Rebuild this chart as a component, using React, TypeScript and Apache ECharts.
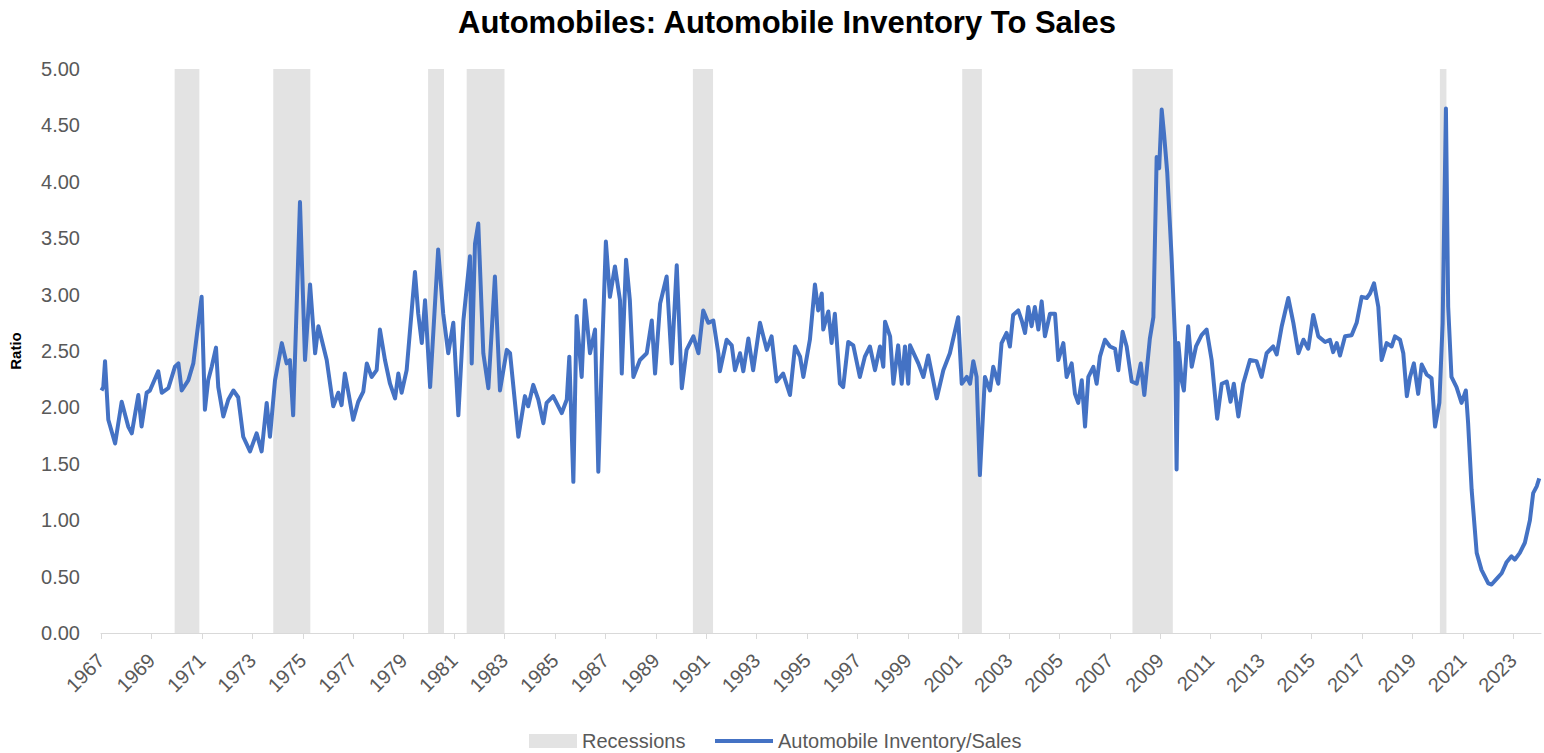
import React, { useEffect, useRef } from "react";
import * as echarts from "echarts";

const dates: number[] = [
  1967.02, 1967.09, 1967.16, 1967.29, 1967.56, 1967.82, 1968.08, 1968.22, 1968.48, 1968.61, 1968.81, 1968.94,
  1969.27, 1969.41, 1969.67, 1969.93, 1970.07, 1970.20, 1970.46, 1970.66, 1970.99, 1971.12, 1971.25, 1971.39,
  1971.56, 1971.65, 1971.85, 1972.05, 1972.25, 1972.44, 1972.64, 1972.91, 1973.17, 1973.37, 1973.57, 1973.70,
  1973.90, 1974.17, 1974.36, 1974.49, 1974.62, 1974.89, 1975.09, 1975.29, 1975.49, 1975.62, 1975.95, 1976.21,
  1976.41, 1976.54, 1976.67, 1976.81, 1977.00, 1977.20, 1977.40, 1977.54, 1977.73, 1977.93, 1978.06, 1978.26,
  1978.46, 1978.66, 1978.79, 1978.92, 1979.12, 1979.45, 1979.58, 1979.72, 1979.85, 1980.05, 1980.37, 1980.57,
  1980.77, 1980.97, 1981.17, 1981.37, 1981.63, 1981.70, 1981.83, 1981.96, 1982.16, 1982.36, 1982.62, 1982.82,
  1983.09, 1983.22, 1983.55, 1983.81, 1983.94, 1984.14, 1984.34, 1984.54, 1984.67, 1984.93, 1985.27, 1985.47,
  1985.57, 1985.73, 1985.86, 1986.06, 1986.19, 1986.39, 1986.59, 1986.72, 1986.85, 1987.02, 1987.18, 1987.38,
  1987.58, 1987.65, 1987.82, 1987.97, 1988.11, 1988.37, 1988.64, 1988.84, 1988.97, 1989.17, 1989.30, 1989.43,
  1989.63, 1989.83, 1990.03, 1990.22, 1990.49, 1990.69, 1990.88, 1991.08, 1991.28, 1991.48, 1991.54, 1991.81,
  1992.01, 1992.14, 1992.34, 1992.47, 1992.67, 1992.86, 1993.13, 1993.40, 1993.59, 1993.79, 1994.05, 1994.32,
  1994.52, 1994.72, 1994.85, 1995.11, 1995.31, 1995.44, 1995.58, 1995.64, 1995.84, 1995.97, 1996.10, 1996.30,
  1996.43, 1996.63, 1996.83, 1997.09, 1997.29, 1997.49, 1997.69, 1997.89, 1998.02, 1998.09, 1998.29, 1998.42,
  1998.61, 1998.75, 1998.88, 1999.01, 1999.08, 1999.41, 1999.61, 1999.80, 2000.14, 2000.40, 2000.66, 2000.99,
  2001.13, 2001.33, 2001.46, 2001.59, 2001.72, 2001.85, 2002.05, 2002.25, 2002.38, 2002.58, 2002.71, 2002.91,
  2003.04, 2003.17, 2003.37, 2003.51, 2003.64, 2003.77, 2003.90, 2004.03, 2004.17, 2004.30, 2004.43, 2004.63,
  2004.83, 2004.96, 2005.16, 2005.29, 2005.49, 2005.62, 2005.75, 2005.89, 2006.02, 2006.15, 2006.35, 2006.48,
  2006.61, 2006.81, 2007.01, 2007.21, 2007.34, 2007.51, 2007.67, 2007.87, 2008.07, 2008.23, 2008.37, 2008.59,
  2008.73, 2008.86, 2008.96, 2009.06, 2009.15, 2009.28, 2009.45, 2009.59, 2009.65, 2009.72, 2009.85, 2009.94,
  2010.11, 2010.25, 2010.42, 2010.64, 2010.84, 2011.04, 2011.26, 2011.44, 2011.64, 2011.79, 2011.92, 2012.10,
  2012.29, 2012.56, 2012.82, 2013.02, 2013.22, 2013.48, 2013.62, 2013.82, 2014.08, 2014.28, 2014.48, 2014.68,
  2014.87, 2015.07, 2015.27, 2015.54, 2015.73, 2015.86, 2016.00, 2016.13, 2016.33, 2016.59, 2016.79, 2016.99,
  2017.19, 2017.32, 2017.48, 2017.65, 2017.78, 2017.98, 2018.18, 2018.31, 2018.51, 2018.64, 2018.78, 2018.91,
  2019.06, 2019.23, 2019.37, 2019.57, 2019.76, 2019.90, 2020.07, 2020.20, 2020.33, 2020.42, 2020.55, 2020.75,
  2020.95, 2021.12, 2021.21, 2021.35, 2021.55, 2021.74, 2022.01, 2022.14, 2022.34, 2022.54, 2022.74, 2022.93,
  2023.06, 2023.26, 2023.46, 2023.66, 2023.79, 2023.93, 2024.03,
];

// Automobile inventory / sales ratio at those dates
const ratio: number[] = [
  2.15, 2.18, 2.41, 1.89, 1.68, 2.05, 1.83, 1.77, 2.11, 1.83, 2.13, 2.15,
  2.32, 2.13, 2.17, 2.36, 2.39, 2.15, 2.24, 2.39, 2.98, 1.98, 2.24, 2.36,
  2.53, 2.18, 1.92, 2.07, 2.15, 2.09, 1.74, 1.61, 1.77, 1.61, 2.04, 1.74,
  2.24, 2.57, 2.39, 2.42, 1.93, 3.82, 2.42, 3.09, 2.48, 2.72, 2.42, 2.01,
  2.13, 2.02, 2.30, 2.13, 1.89, 2.05, 2.14, 2.39, 2.27, 2.33, 2.69, 2.42,
  2.21, 2.08, 2.30, 2.13, 2.33, 3.20, 2.83, 2.57, 2.95, 2.18, 3.40, 2.83,
  2.48, 2.75, 1.93, 2.77, 3.34, 2.39, 3.45, 3.63, 2.48, 2.17, 3.16, 2.15,
  2.51, 2.48, 1.74, 2.10, 2.01, 2.20, 2.07, 1.86, 2.04, 2.10, 1.95, 2.07,
  2.45, 1.34, 2.81, 2.27, 2.95, 2.48, 2.69, 1.43, 2.36, 3.47, 2.98, 3.25,
  2.95, 2.30, 3.31, 2.95, 2.27, 2.42, 2.48, 2.77, 2.30, 2.92, 3.04, 3.16,
  2.39, 3.26, 2.17, 2.51, 2.63, 2.48, 2.86, 2.75, 2.77, 2.48, 2.32, 2.60,
  2.55, 2.33, 2.48, 2.32, 2.61, 2.33, 2.75, 2.51, 2.63, 2.23, 2.30, 2.11,
  2.54, 2.45, 2.27, 2.60, 3.09, 2.86, 3.01, 2.69, 2.85, 2.57, 2.83, 2.21,
  2.18, 2.58, 2.55, 2.27, 2.45, 2.54, 2.33, 2.54, 2.36, 2.76, 2.63, 2.21,
  2.55, 2.21, 2.54, 2.21, 2.55, 2.39, 2.27, 2.46, 2.08, 2.33, 2.48, 2.80,
  2.21, 2.27, 2.21, 2.41, 2.27, 1.40, 2.27, 2.15, 2.36, 2.21, 2.57, 2.66,
  2.54, 2.82, 2.86, 2.77, 2.66, 2.89, 2.72, 2.89, 2.69, 2.94, 2.63, 2.83,
  2.83, 2.42, 2.57, 2.27, 2.39, 2.12, 2.04, 2.24, 1.83, 2.27, 2.36, 2.21,
  2.45, 2.60, 2.54, 2.52, 2.33, 2.67, 2.54, 2.23, 2.21, 2.39, 2.11, 2.61,
  2.80, 4.22, 4.12, 4.64, 4.43, 4.08, 3.34, 2.60, 1.45, 2.57, 2.24, 2.15,
  2.72, 2.36, 2.54, 2.64, 2.69, 2.42, 1.90, 2.21, 2.23, 2.05, 2.21, 1.92,
  2.21, 2.42, 2.41, 2.27, 2.48, 2.54, 2.47, 2.72, 2.97, 2.75, 2.48, 2.60,
  2.52, 2.82, 2.63, 2.58, 2.60, 2.49, 2.57, 2.46, 2.63, 2.64, 2.75, 2.98,
  2.97, 3.01, 3.10, 2.89, 2.42, 2.57, 2.54, 2.63, 2.60, 2.48, 2.10, 2.27,
  2.39, 2.12, 2.38, 2.29, 2.26, 1.83, 2.04, 2.75, 4.65, 2.89, 2.27, 2.18,
  2.04, 2.15, 1.86, 1.27, 0.71, 0.56, 0.44, 0.43, 0.48, 0.53, 0.63, 0.68,
  0.65, 0.71, 0.80, 1.00, 1.24, 1.30, 1.37,
];

// Recession periods (start, end) in decimal years
const recessionStarts: number[] = [1969.92, 1973.83, 1979.97, 1981.5, 1990.47, 2001.15, 2007.9, 2020.09];
const recessionEnds: number[] = [1970.9, 1975.3, 1980.6, 1983.0, 1991.27, 2001.93, 2009.5, 2020.35];

// Tick labels on the time axis
const tickYears: number[] = [
  1967, 1969, 1971, 1973, 1975, 1977, 1979, 1981, 1983, 1985, 1987, 1989, 1991, 1993, 1995,
  1997, 1999, 2001, 2003, 2005, 2007, 2009, 2011, 2013, 2015, 2017, 2019, 2021, 2023,
];

const BASE_YEAR = 1967;
const END_YEAR = 2024.1;

const TITLE = "Automobiles: Automobile Inventory To Sales";
const LINE_NAME = "Automobile Inventory/Sales";
const REC_NAME = "Recessions";

export default function App() {
  const ref = useRef<HTMLDivElement>(null);

  useEffect(() => {
    if (!ref.current) return;
    const chart = echarts.init(ref.current, null, { renderer: "svg" });
    const font = "'Liberation Sans', Arial, sans-serif";
    const labelColor = "#595959";
    const lineColor = "#4472C4";
    const recColor = "#e3e3e3";
    const tickValues = tickYears.map((y) => y - BASE_YEAR);
    const lineData = dates.map((d, i) => [d - BASE_YEAR, ratio[i]]);
    const areas = recessionStarts.map((s, i) => [
      { xAxis: s - BASE_YEAR },
      { xAxis: recessionEnds[i] - BASE_YEAR },
    ]);
    const legendText = { fontFamily: font, fontSize: 20, color: labelColor };

    chart.setOption({
      animation: false,
      backgroundColor: "#ffffff",
      title: {
        text: TITLE,
        left: 453,
        top: 2,
        textStyle: { fontFamily: font, fontSize: 31, fontWeight: "bold", color: "#000000" },
      },
      legend: [
        {
          left: 524,
          top: 726,
          itemWidth: 48,
          itemHeight: 14,
          itemGap: 0,
          textStyle: legendText,
          data: [{ name: REC_NAME, icon: "rect" }],
        },
        {
          left: 710,
          top: 726,
          itemWidth: 58,
          itemHeight: 4,
          itemGap: 0,
          textStyle: legendText,
          data: [{ name: LINE_NAME, icon: "rect" }],
        },
      ],
      grid: { left: 101, right: 3, top: 69, bottom: 120, containLabel: false },
      xAxis: {
        type: "value",
        min: 0,
        max: END_YEAR - BASE_YEAR,
        interval: 2,
        splitLine: { show: false },
        axisLine: { show: true, lineStyle: { color: "#d9d9d9", width: 1 } },
        axisTick: {
          show: true,
          length: 6,
          customValues: tickValues,
          lineStyle: { color: "#d9d9d9" },
        },
        axisLabel: {
          rotate: 45,
          margin: 24,
          customValues: tickValues,
          fontFamily: font,
          fontSize: 20,
          color: labelColor,
          formatter: (v: number) => String(Math.round(v) + BASE_YEAR),
        },
      },
      yAxis: {
        type: "value",
        min: 0,
        max: 5,
        interval: 0.5,
        name: "Ratio",
        nameLocation: "middle",
        nameRotate: 90,
        nameGap: 78,
        nameTextStyle: { fontFamily: font, fontSize: 15, fontWeight: "bold", color: "#000000" },
        splitLine: { show: false },
        axisLine: { show: false },
        axisTick: { show: false },
        axisLabel: {
          margin: 21,
          fontFamily: font,
          fontSize: 20,
          color: labelColor,
          formatter: (v: number) => v.toFixed(2),
        },
      },
      series: [
        {
          name: REC_NAME,
          type: "line",
          data: [],
          symbol: "none",
          itemStyle: { color: recColor },
          lineStyle: { color: recColor },
          z: 1,
          markArea: {
            silent: true,
            itemStyle: { color: recColor },
            data: areas,
          },
        },
        {
          name: LINE_NAME,
          type: "line",
          data: lineData,
          symbol: "none",
          smooth: false,
          itemStyle: { color: lineColor },
          lineStyle: { color: lineColor, width: 4, join: "round" },
          z: 3,
        },
      ],
    });

    return () => chart.dispose();
  }, []);

  return (
    <div
      ref={ref}
      style={{ position: "fixed", left: 0, top: 0, width: "1544px", height: "753px" }}
    />
  );
}
